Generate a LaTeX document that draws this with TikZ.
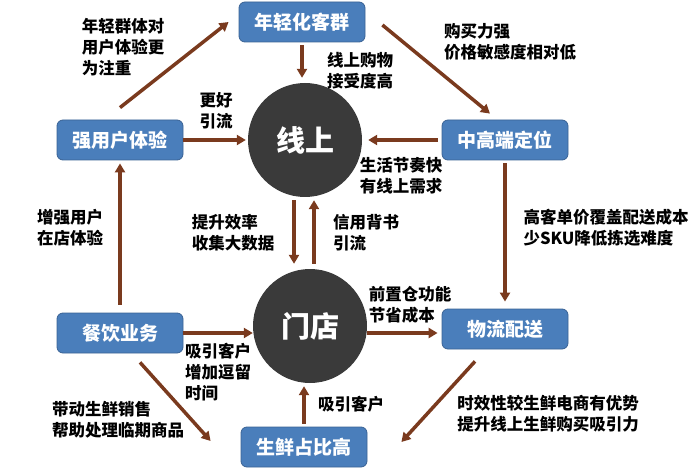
\documentclass[tikz,border=0pt]{standalone}
\usepackage{fontspec}
\setmainfont{Noto Sans CJK SC}
\usetikzlibrary{arrows.meta, positioning}
\definecolor{boxBlue} {RGB}{ 74,126,187}
\definecolor{boxEdge} {RGB}{ 58, 98,148}
\definecolor{hubGray} {RGB}{ 58, 58, 58}
\definecolor{arrBrown}{RGB}{122, 58, 30}

\begin{document}
\begin{tikzpicture}[
  x=1pt, y=-1pt,
  box/.style={rectangle, rounded corners=6pt, fill=boxBlue, draw=boxEdge,
    line width=0.8pt, minimum width=126pt, minimum height=40pt,
    text=white, font=\bfseries\fontsize{19}{21}\selectfont},
  hub/.style={circle, fill=hubGray, minimum size=114pt, inner sep=0pt,
    text=white, font=\bfseries\fontsize{29}{31}\selectfont},
  lbl/.style={align=left, inner sep=0pt,
    font=\bfseries\fontsize{16.5}{21}\selectfont},
  arr/.style={-{Triangle[length=9pt,width=10pt]}, line width=3.5pt,
    color=arrBrown},
]
\useasboundingbox (0,0) rectangle (700,470);

%% ── Hubs ─────────────────────────────────────────────────────────────────────
\node[hub] (online) at (305,140) {线上};
\node[hub] (store)  at (310,326) {门店};

%% ── Factor boxes ─────────────────────────────────────────────────────────────
\node[box] (young)     at (302, 22) {年轻化客群};
\node[box] (ux)        at (120,140) {强用户体验};
\node[box] (midhigh)   at (505,140) {中高端定位};
\node[box] (food)      at (120,333) {餐饮业务};
\node[box] (logistics) at (505,329) {物流配送};
\node[box] (fresh)     at (304,447) {生鲜占比高};

%% ── Connectors ───────────────────────────────────────────────────────────────
\draw[arr] ([yshift=12pt]ux.north) -- ([xshift=-10pt]young.west);
\draw[arr, shorten <=3pt, shorten >=5pt]
  (young.south) -- (young.south |- online.north);
\draw[arr] ([xshift=17pt,yshift=-3pt]young.east)
  -- ([xshift=-15pt,yshift=6pt]midhigh.north);
\draw[arr, shorten >=2pt] (ux.east) -- (online.west);
\draw[arr, shorten <=4pt, shorten >=6pt] (midhigh.west) -- (online.east);
\draw[arr, shorten <=3pt, shorten >=7pt] (midhigh.south) -- (logistics.north);
\draw[arr, shorten <=3pt, shorten >=5pt]
  ([xshift=-11pt]online.south) -- ([xshift=-11pt]online.south |- store.north);
\draw[arr, shorten <=5pt, shorten >=3pt]
  ([xshift=4pt]store.north) -- ([xshift=4pt]store.north |- online.south);
\draw[arr, shorten <=8pt, shorten >=3pt] (food.north) -- (ux.south);
\draw[arr] (food.east) -- (food.east -| store.west);
\draw[arr, shorten >=4pt]
  (store.east |- logistics.west) ++(0,4) coordinate (se) -- (se -| logistics.west);
\draw[arr] ([xshift=20pt,yshift=-9pt]food.south)
  -- ([xshift=-30pt,yshift=6pt]fresh.west);
\draw[arr, shorten <=3pt, shorten >=3pt] (fresh.north) -- (fresh.north |- store.south);
\draw[arr] ([xshift=-30pt,yshift=-12pt]logistics.south)
  -- ([xshift=34pt,yshift=5pt]fresh.east);

%% ── Labels ───────────────────────────────────────────────────────────────────
\node[lbl] (lYoung)   at (123, 47) {年轻群体对\\用户体验更\\为注重};
\node[lbl] (lFlow)    at (216,111) {更好\\引流};
\node[lbl] (lAccept)  at (360, 71) {线上购物\\接受度高};
\node[lbl] (lBuy)     at (510, 42) {购买力强\\价格敏感度相对低};
\node[lbl] (lPace)    at (401,176) {生活节奏快\\有线上需求};
\node[lbl] (lData)    at (233,233) {提升效率\\收集大数据};
\node[lbl] (lTrust)   at (366,233) {信用背书\\引流};
\node[lbl] (lCost)    at (606,228) {高客单价覆盖配送成本\\少SKU降低拣选难度};
\node[lbl] (lInStore) at ( 70,228) {增强用户\\在店体验};
\node[lbl] (lWare)    at (410,305) {前置仓功能\\节省成本};
\node[lbl] (lStay)    at (218,372) {吸引客户\\增加逗留\\时间};
\node[lbl] (lAttract) at (351,404) {吸引客户};
\node[lbl] (lSales)   at (118,420) {带动生鲜销售\\帮助处理临期商品};
\node[lbl] (lTime)    at (548,414) {时效性较生鲜电商有优势\\提升线上生鲜购买吸引力};

\end{tikzpicture}
\end{document}
